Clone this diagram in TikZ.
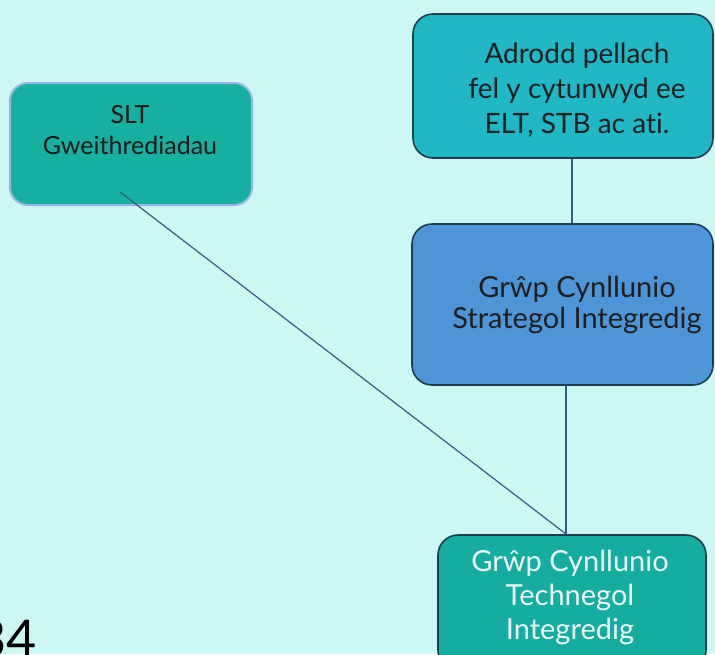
\documentclass[tikz,border=0pt]{standalone}
\usepackage{fontspec}
\setmainfont[Ligatures=NoCommon]{Lato}
\definecolor{bgc}{RGB}{204,247,242}
\definecolor{tealA}{RGB}{23,176,160}
\definecolor{cyanA}{RGB}{32,184,196}
\definecolor{blueA}{RGB}{78,148,216}
\definecolor{tealB}{RGB}{20,173,160}
\definecolor{edgeD}{RGB}{30,62,80}
\definecolor{edgeL}{RGB}{150,180,230}
\definecolor{linkc}{RGB}{45,95,130}
\tikzset{
  box/.style={rounded corners=20pt, line width=1.6pt, draw=edgeD},
  txt/.style={align=center, inner sep=0pt},
  link/.style={draw=linkc, line width=1.2pt}
}
\begin{document}
\begin{tikzpicture}[x=1pt,y=-1pt]
\useasboundingbox (0,0) rectangle (715,654);
\clip (0,0) rectangle (715,654);
\fill[bgc] (0,0) rectangle (715,654);
% boxes
\draw[rounded corners=18pt, line width=2pt, draw=edgeL, fill=tealA] (10,83) rectangle (252,205);
\node[txt, font=\fontsize{25}{31}\selectfont, text=black!90] (slt) at (130,130) {SLT\\Gweithrediadau};
\draw[box, fill=cyanA] (413,14) rectangle (713,158);
\node[txt, font=\fontsize{28}{35}\selectfont, text=black!88] (adr) at (577,90) {Adrodd pellach\\fel y cytunwyd ee\\ELT, STB ac ati.};
\draw[box, fill=blueA] (412,224) rectangle (713,385);
\node[txt, font=\fontsize{29}{31}\selectfont, text=black!88] (str) at (577,305) {Grŵp Cynllunio\\Strategol Integredig};
\draw[box, fill=tealB] (438,535) rectangle (706,670);
\node[txt, font=\fontsize{29}{34}\selectfont, text=white!92!tealB] (tech) at (570,597) {Grŵp Cynllunio\\Technegol\\Integredig};
% connectors
\coordinate (slttail) at (120,192);
\coordinate (techtop) at (566,534);
\coordinate (adrbot) at (572,159);
\coordinate (strtop) at (572,223);
\coordinate (strbot) at (566,386);
\draw[link] (slttail) -- (techtop);
\draw[link] (adrbot) -- (strtop);
\draw[link] (strbot) -- (techtop);
\node[anchor=base east, inner sep=0pt, font=\fontsize{52}{58}\selectfont] (pg) at (37,657) {34};
\end{tikzpicture}
\end{document}
